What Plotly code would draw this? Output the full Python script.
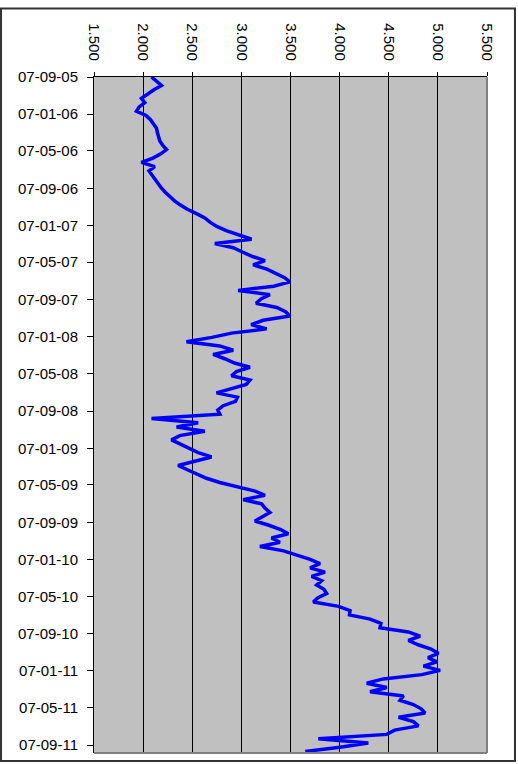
import pandas as pd
import plotly.graph_objects as go

# Index level, sampled every two weeks from 7 Sep 2005
start_date = "2005-09-07"
end_date = "2011-10-03"
index_values = [
    2085, 2140, 2187, 2110, 2040, 1983, 2017, 1960, 1932, 2030,
    2075, 2105, 2136, 2145, 2160, 2170, 2200, 2238, 2180, 2100,
    1983, 2118, 2060, 2090, 2130, 2160, 2185, 2225, 2270, 2320,
    2380, 2450, 2543, 2628, 2680, 2750, 2845, 2967, 3104, 2730,
    2917, 3010, 3110, 3240, 3120, 3260, 3360, 3440, 3494, 3330,
    2967, 3290, 3200, 3150, 3360, 3450, 3494, 3222, 3100, 3257,
    2900, 2700, 2441, 2780, 2917, 2713, 2830, 2930, 3087, 2950,
    2900, 3087, 3050, 2900, 2747, 2960, 2940, 2815, 2760, 2781,
    2085, 2560, 2340, 2628, 2373, 2289, 2380, 2460, 2560, 2696,
    2526, 2356, 2450, 2540, 2645, 2780, 2951, 3140, 3240, 3018,
    3206, 3240, 3290, 3220, 3138, 3280, 3400, 3477, 3307, 3392,
    3189, 3430, 3580, 3700, 3800, 3700, 3851, 3715, 3817, 3766,
    3840, 3868, 3780, 3732, 3990, 4106, 4100, 4310, 4420, 4411,
    4700, 4819, 4700, 4800, 4930, 5005, 4900, 4989, 4853, 5023,
    4836, 4445, 4276, 4480, 4310, 4650, 4615, 4750, 4830, 4870,
    4600, 4751, 4802, 4560, 4480, 3783, 4292, 4004, 3650,
]
dates = pd.date_range(start=start_date, periods=len(index_values), freq="14D")

value_min, value_max, value_step = 1500, 5500, 500

fig = go.Figure()
fig.add_trace(go.Scatter(
    x=index_values,
    y=dates,
    mode="lines",
    line=dict(color="#0000FF", width=3.5),
    hoverinfo="skip",
    showlegend=False,
))

font = dict(family="Liberation Sans, Arial, sans-serif", size=15, color="#000000")

fig.update_layout(
    width=518,
    height=764,
    margin=dict(l=94, r=31, t=77, b=11, pad=0),
    paper_bgcolor="#FFFFFF",
    plot_bgcolor="#C0C0C0",
    separators=",.",
    font=font,
    xaxis=dict(
        side="top",
        range=[value_min, value_max],
        tick0=value_min,
        dtick=value_step,
        tickformat=",d",
        tickangle=90,
        ticks="outside",
        ticklen=4,
        tickcolor="#000000",
        showline=True,
        linecolor="#000000",
        linewidth=1,
        showgrid=True,
        gridcolor="#000000",
        gridwidth=1,
        zeroline=False,
        ticklabelstandoff=6,
        tickfont=font,
    ),
    yaxis=dict(
        type="date",
        range=[end_date, start_date],
        tick0=start_date,
        dtick="M4",
        tickformat="%d-%m-%y",
        ticks="outside",
        ticklen=6,
        tickcolor="#000000",
        showline=True,
        linecolor="#000000",
        linewidth=1,
        showgrid=False,
        zeroline=False,
        ticklabelstandoff=6,
        tickfont=font,
    ),
    shapes=[
        # plot-area border on the right and bottom
        dict(type="line", xref="paper", yref="paper", x0=1, x1=1, y0=0, y1=1,
             line=dict(color="#808080", width=2), layer="above"),
        dict(type="line", xref="paper", yref="paper", x0=0, x1=1, y0=0, y1=0,
             line=dict(color="#808080", width=2), layer="above"),
        # chart-area frame
        dict(type="rect", xref="paper", yref="paper",
             x0=-0.2366, x1=1.0712, y0=-0.0118, y1=1.1013,
             line=dict(color="#333333", width=2), fillcolor="rgba(0,0,0,0)",
             layer="above"),
    ],
)

fig.write_html("out.html")
